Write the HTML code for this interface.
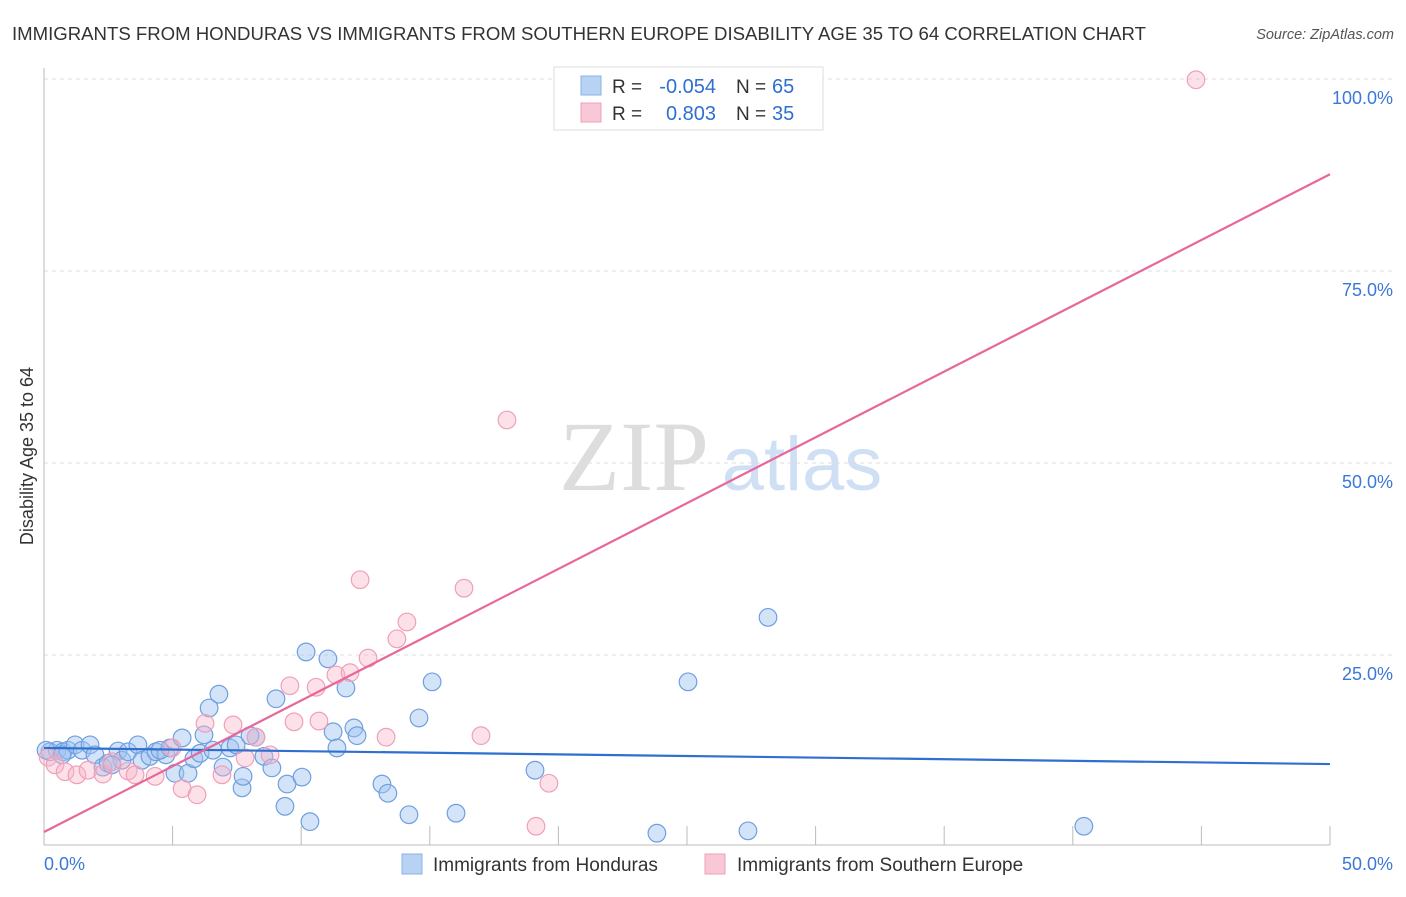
<!DOCTYPE html>
<html><head><meta charset="utf-8"><style>
body{margin:0;background:#fff;font-family:"Liberation Sans",sans-serif;}
svg text{font-family:"Liberation Sans",sans-serif;}
</style></head><body>
<svg id="chart" width="1406" height="892">
<text x="12" y="40" font-size="18.6" fill="#333" textLength="1134">IMMIGRANTS FROM HONDURAS VS IMMIGRANTS FROM SOUTHERN EUROPE DISABILITY AGE 35 TO 64 CORRELATION CHART</text>
<text x="1394" y="39" font-size="14.5" fill="#555" text-anchor="end" font-style="italic">Source: ZipAtlas.com</text>
<text x="33" y="456" font-size="18" fill="#333" text-anchor="middle" transform="rotate(-90 33 456)">Disability Age 35 to 64</text>
<g><text x="634" y="490" font-size="100" fill="#ddd" text-anchor="middle" style="font-family:'Liberation Serif',serif">ZIP</text><text x="802" y="490" font-size="76" fill="#cfe0f5" text-anchor="middle">atlas</text></g>
<g id="grid"></g><g id="axes"></g><g id="pts"></g><g id="lines"></g>
<g>
<rect x="554" y="67" width="269" height="63" fill="#fff" stroke="#ddd"/>
<rect x="581" y="76" width="20" height="19" fill="#b8d2f4" stroke="#8ab2e6"/>
<rect x="581" y="103" width="20" height="19" fill="#f9c8d6" stroke="#f0a0b8"/>
<text x="612" y="93" font-size="19" fill="#333">R =</text>
<text x="716" y="93" font-size="20" fill="#2f6fd0" text-anchor="end">-0.054</text>
<text x="736" y="93" font-size="19" fill="#333">N =</text>
<text x="772" y="93" font-size="20" fill="#2f6fd0">65</text>
<text x="612" y="120" font-size="19" fill="#333">R =</text>
<text x="716" y="120" font-size="20" fill="#2f6fd0" text-anchor="end">0.803</text>
<text x="736" y="120" font-size="19" fill="#333">N =</text>
<text x="772" y="120" font-size="20" fill="#2f6fd0">35</text>
</g>
<g>
<rect x="402" y="854" width="20" height="20" fill="#b8d2f4" stroke="#8ab2e6"/>
<text x="433" y="871" font-size="19" fill="#333">Immigrants from Honduras</text>
<rect x="705" y="854" width="20" height="20" fill="#f9c8d6" stroke="#f0a0b8"/>
<text x="737" y="871" font-size="19" fill="#333">Immigrants from Southern Europe</text>
</g>
</svg>
<script>
const blueX=[0.23,0.51,0.74,0.93,1.21,1.48,1.79,1.98,2.29,2.49,2.88,3.03,3.27,3.65,3.81,4.12,4.35,4.74,4.90,5.09,5.37,5.60,5.83,6.07,6.22,6.42,6.57,6.80,6.96,7.23,7.47,7.70,7.74,8.24,8.55,8.86,9.02,9.37,9.45,10.03,10.19,10.34,11.04,11.24,11.39,11.74,12.05,12.17,13.14,13.37,14.19,14.58,15.09,16.02,19.09,23.83,25.04,27.37,28.15,40.43,0.08,2.64,4.51,0.70,8.01];
const blueY=[12.4,12.6,12.4,12.6,13.3,12.6,13.3,12.0,10.4,10.9,12.5,11.3,12.4,13.3,11.3,11.8,12.4,12.0,12.9,9.6,14.2,9.6,11.5,12.2,14.6,18.1,12.6,19.9,10.4,12.9,13.3,7.7,9.2,14.3,11.8,10.3,19.3,5.3,8.2,9.1,25.4,3.3,24.5,15.0,12.9,20.7,15.5,14.5,8.2,7.0,4.2,16.8,21.5,4.4,10.0,1.8,21.5,2.1,29.9,2.7,12.6,10.7,12.6,12.0,14.5];
const pinkX=[0.16,0.43,0.82,1.28,1.71,2.29,2.64,3.27,3.54,4.32,4.98,5.37,5.95,6.26,6.92,7.35,7.82,8.24,8.79,9.56,9.72,10.58,10.69,11.35,11.90,12.29,12.60,13.30,13.72,14.11,16.33,16.99,18.00,19.13,19.63,44.79];
const pinkY=[11.7,10.7,9.8,9.4,10.0,9.5,11.1,9.9,9.4,9.2,12.9,7.6,6.8,16.1,9.4,15.9,11.6,14.3,12.0,21.0,16.3,20.8,16.4,22.4,22.7,34.8,24.6,14.3,27.1,29.3,33.7,14.5,55.6,2.7,8.3,99.9];
const blueTrend=[12.9,10.8];
const pinkTrend=[1.95,87.6];
const yTicks=[25,50,75,100];
const yTickLabels=["25.0%","50.0%","75.0%","100.0%"];
const xTicks=[5,10,15,20,25,30,35,40,45,50];
const NS="http://www.w3.org/2000/svg";
const sx=v=>44+v/50*1286, sy=v=>847-v/100*768;
function mk(tag,attrs,parent){const e=document.createElementNS(NS,tag);for(const k in attrs)e.setAttribute(k,attrs[k]);parent.appendChild(e);return e;}
const grid=document.getElementById('grid'),axes=document.getElementById('axes'),pts=document.getElementById('pts'),lines=document.getElementById('lines');
yTicks.forEach((t,i)=>{
 const l=mk('line',{x1:44,x2:1394,y1:sy(t),y2:sy(t),stroke:'#ddd','stroke-dasharray':'4,4'},grid);
 
 
 const tx=mk('text',{x:1393,y:sy(t)+25,'font-size':18,fill:'#3b78d8','text-anchor':'end'},axes);
 tx.textContent=yTickLabels[i];
 
 
});
const ya=mk('line',{x1:44,x2:44,y1:68,y2:845,stroke:'#bbb'},axes);


const xa=mk('line',{x1:44,x2:1330,y1:845,y2:845,stroke:'#bbb'},axes);


xTicks.forEach(t=>{
 const l=mk('line',{x1:sx(t),x2:sx(t),y1:826,y2:845,stroke:'#bbb'},axes);
 
 
});
const x0=mk('text',{x:44,y:870,'font-size':18,fill:'#3b78d8'},axes);x0.textContent='0.0%';


const x1=mk('text',{x:1393,y:870,'font-size':18,fill:'#3b78d8','text-anchor':'end'},axes);x1.textContent='50.0%';


blueX.forEach((x,i)=>{
 const c=mk('circle',{cx:sx(x),cy:sy(blueY[i]),r:8.8,fill:'rgba(160,196,240,0.45)',stroke:'#6f9fe0','stroke-width':1.2},pts);
 
 
});
pinkX.forEach((x,i)=>{
 const c=mk('circle',{cx:sx(x),cy:sy(pinkY[i]),r:8.8,fill:'rgba(248,180,200,0.4)',stroke:'#f0a0b8','stroke-width':1.2},pts);
 
 
});
const bl=mk('line',{x1:sx(0),x2:sx(50),y1:sy(blueTrend[0]),y2:sy(blueTrend[1]),stroke:'#2f6fd0','stroke-width':2.2},lines);


const pl=mk('line',{x1:sx(0),x2:sx(50),y1:sy(pinkTrend[0]),y2:sy(pinkTrend[1]),stroke:'#e8679a','stroke-width':2.2},lines);


</script>
</body></html>
